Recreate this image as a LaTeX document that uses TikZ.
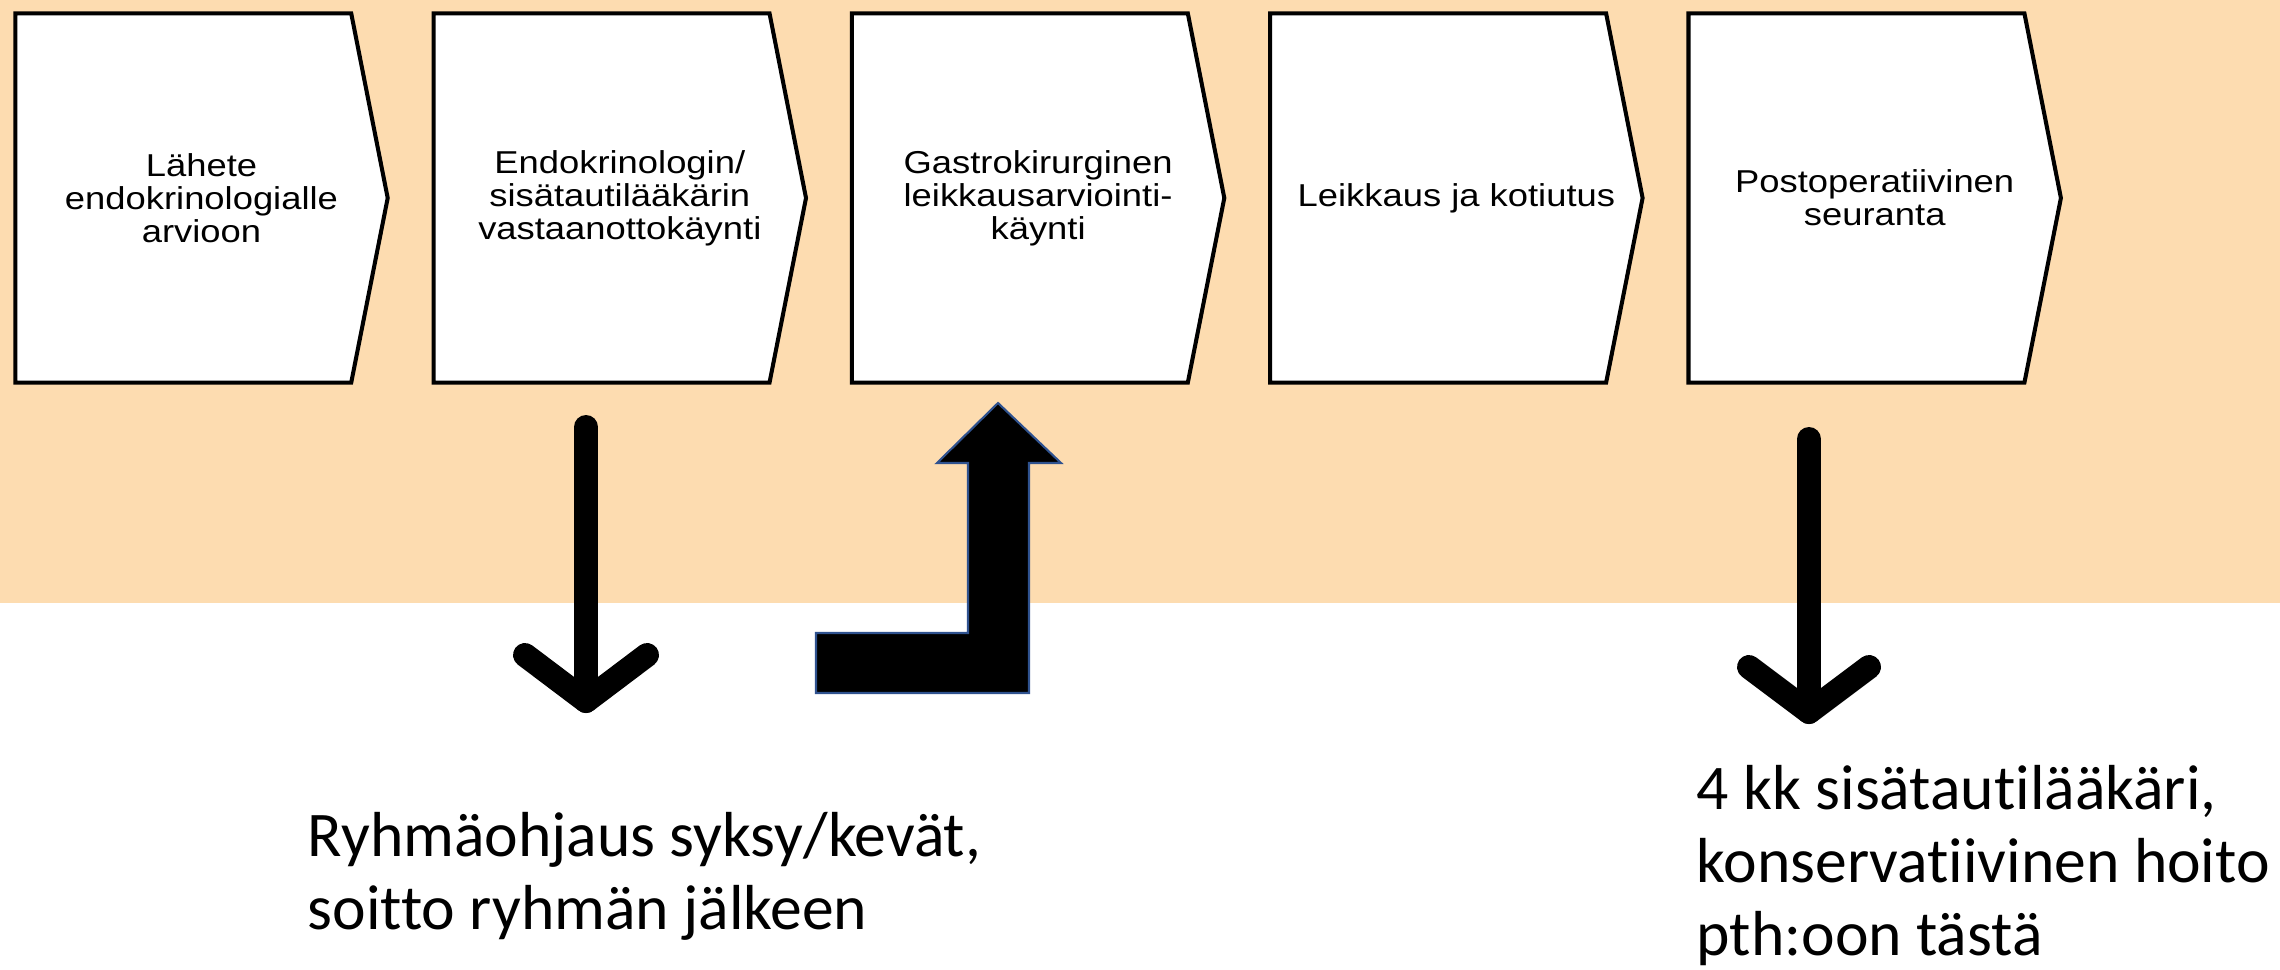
\documentclass[tikz,border=0pt]{standalone}
\usepackage{fontspec}
\setmainfont{Liberation Sans}
\newfontfamily\stagefont[FakeStretch=1.15]{Liberation Sans}
\newfontfamily\calibri[Ligatures=NoCommon]{Carlito}
\usepackage{tikz}
\usetikzlibrary{backgrounds}
\definecolor{band}{RGB}{253,220,176}
\definecolor{bentblue}{RGB}{47,82,143}
\tikzset{
    stage/.style={minimum width=3.71cm, minimum height=3.68cm, inner sep=0pt, align=center, font=\stagefont\fontsize{9}{9.4}\selectfont},
    chevron/.style={draw, line width=1.15pt, fill=white, line join=miter},
    note/.style={anchor=base west, inner sep=0pt, align=left, font=\calibri\fontsize{18.1}{20.7}\selectfont},
    thinarrow/.style={line width=0.24cm, line cap=round, line join=round},
    bent/.style={fill=black, draw=bentblue, line width=0.6pt}
}

\begin{document}
\begin{tikzpicture}
    \useasboundingbox (0,0) rectangle (22.8,9.69);
    % Nodes
    \node[stage] (s1) at (2.015,7.71) {Lähete\\endokrinologialle\\arvioon};
    \node[stage] (s2) at (6.198,7.71) {Endokrinologin/\\sisätautilääkärin\\vastaanottokäynti};
    \node[stage] (s3) at (10.381,7.71) {Gastrokirurginen\\leikkausarviointi-\\käynti};
    \node[stage] (s4) at (14.564,7.71) {Leikkaus ja kotiutus};
    \node[stage] (s5) at (18.747,7.71) {Postoperatiivinen\\seuranta};
    \node[note] (ryhma) at (3.07,0.40) {Ryhmäohjaus syksy/kevät,\\soitto ryhmän jälkeen};
    \node[note] (pth) at (16.96,0.14) {4 kk sisätautilääkäri,\\konservatiivinen hoito\\pth:oon tästä};

    % band and chevrons
    \begin{scope}[on background layer]
        \fill[band] (0,3.66) rectangle (22.8,9.69);
        \foreach \s in {s1,s2,s3,s4,s5}
            \draw[chevron] (\s.north west) -- ([xshift=-0.365cm]\s.north east) -- (\s.east)
                -- ([xshift=-0.365cm]\s.south east) -- (\s.south west) -- cycle;
    \end{scope}

    % arrows
    \coordinate (a1) at (5.86,5.42);
    \coordinate (a1tip) at (5.86,2.68);
    \coordinate (a3) at (18.09,5.30);
    \coordinate (a3tip) at (18.09,2.57);
    \draw[thinarrow] (a1) -- (a1tip);
    \draw[thinarrow] ([shift={(-0.61,0.46)}]a1tip) -- (a1tip) -- ([shift={(0.61,0.46)}]a1tip);
    \draw[thinarrow] (a3) -- (a3tip);
    \draw[thinarrow] ([shift={(-0.60,0.45)}]a3tip) -- (a3tip) -- ([shift={(0.60,0.45)}]a3tip);
    \draw[bent] (9.98,5.66) -- (10.61,5.06) -- (10.29,5.06) -- (10.29,2.76) -- (8.16,2.76)
        -- (8.16,3.36) -- (9.68,3.36) -- (9.68,5.06) -- (9.37,5.06) -- cycle;
\end{tikzpicture}
\end{document}
